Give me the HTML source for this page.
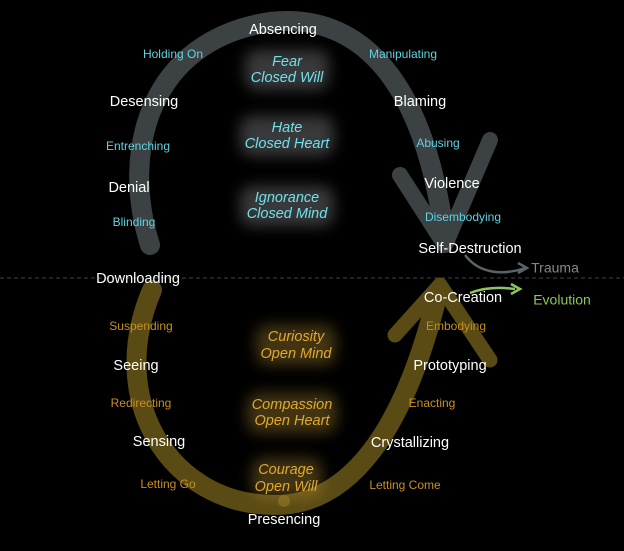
<!DOCTYPE html>
<html><head><style>
body{margin:0;background:#000;width:624px;height:551px;overflow:hidden;font-family:"Liberation Sans",sans-serif}
svg{display:block}
text{text-anchor:middle;dominant-baseline:middle}
.w{fill:#fff;font-size:14.5px}
.c{fill:#5fd4e0;font-size:12px}
.ci{fill:#6fe0ea;font-size:14.5px;font-style:italic}
.o{fill:#c8901e;font-size:12px}
.oi{fill:#e0a830;font-size:14.5px;font-style:italic}
</style></head><body>
<svg width="624" height="551" viewBox="0 0 624 551">
<defs>
<filter id="b" x="-50%" y="-50%" width="200%" height="200%"><feGaussianBlur stdDeviation="7"/></filter>
</defs>
<line x1="0" y1="278" x2="624" y2="278" stroke="#444" stroke-dasharray="4 3" stroke-width="1"/>
<path d="M150,245 C120,150 150,40 270,22 C360,12 425,80 445,240" fill="none" stroke="#3c4244" stroke-width="20" stroke-linecap="round"/>
<path d="M400,175 L445,245 L490,140" fill="none" stroke="#3c4244" stroke-width="16" stroke-linecap="round" stroke-linejoin="round"/>
<path d="M465,255 C480,275 505,275 525,268" fill="none" stroke="#5a6466" stroke-width="2.5"/>
<path d="M518,263 L527,268 L518,273" fill="none" stroke="#5a6466" stroke-width="2.5"/>
<path d="M152,290 C105,400 170,505 275,505 C350,505 405,430 438,292" fill="none" stroke="#5a4a14" stroke-width="20" stroke-linecap="round"/>
<path d="M395,335 L440,285 L490,360" fill="none" stroke="#5a4a14" stroke-width="15" stroke-linecap="round" stroke-linejoin="round"/>
<circle cx="284" cy="501" r="6" fill="#7a6420"/>
<path d="M470,293 C485,287 500,287 515,289" fill="none" stroke="#8ec55a" stroke-width="2.5"/>
<path d="M511,284 L520,289 L511,294" fill="none" stroke="#8ec55a" stroke-width="2.5"/>
<g filter="url(#b)" fill="rgba(200,205,210,0.28)">
<rect x="245" y="50" width="84" height="40" rx="12"/>
<rect x="240" y="116" width="94" height="40" rx="12"/>
<rect x="240" y="186" width="94" height="40" rx="12"/>
</g>
<g filter="url(#b)" fill="rgba(190,150,50,0.35)">
<rect x="256" y="325" width="80" height="40" rx="12"/>
<rect x="247" y="393" width="90" height="40" rx="12"/>
<rect x="252" y="458" width="70" height="40" rx="12"/>
</g>
<g transform="translate(0,1)">
<text class="w" x="283" y="29">Absencing</text>
<text class="c" x="173" y="54">Holding On</text>
<text class="c" x="403" y="54">Manipulating</text>
<text class="ci" x="287" y="61">Fear</text>
<text class="ci" x="287" y="77">Closed Will</text>
<text class="w" x="144" y="101">Desensing</text>
<text class="w" x="420" y="101">Blaming</text>
<text class="ci" x="287" y="127">Hate</text>
<text class="ci" x="287" y="143">Closed Heart</text>
<text class="c" x="138" y="146">Entrenching</text>
<text class="c" x="438" y="143">Abusing</text>
<text class="w" x="129" y="187">Denial</text>
<text class="w" x="452" y="183">Violence</text>
<text class="ci" x="287" y="197">Ignorance</text>
<text class="ci" x="287" y="213">Closed Mind</text>
<text class="c" x="134" y="222">Blinding</text>
<text class="c" x="463" y="217">Disembodying</text>
<text class="w" x="470" y="248">Self-Destruction</text>
<text x="555" y="268" style="fill:#7e8a8c;font-size:14px">Trauma</text>
<text class="w" x="138" y="278">Downloading</text>
<text class="w" x="463" y="297">Co-Creation</text>
<text x="562" y="300" style="fill:#8ec55a;font-size:14px">Evolution</text>
<text class="o" x="141" y="326">Suspending</text>
<text class="o" x="456" y="326">Embodying</text>
<text class="oi" x="296" y="336">Curiosity</text>
<text class="oi" x="296" y="353">Open Mind</text>
<text class="w" x="136" y="365">Seeing</text>
<text class="w" x="450" y="365">Prototyping</text>
<text class="o" x="141" y="403">Redirecting</text>
<text class="o" x="432" y="403">Enacting</text>
<text class="oi" x="292" y="404">Compassion</text>
<text class="oi" x="292" y="420">Open Heart</text>
<text class="w" x="159" y="441">Sensing</text>
<text class="w" x="410" y="442">Crystallizing</text>
<text class="oi" x="286" y="469">Courage</text>
<text class="oi" x="286" y="486">Open Will</text>
<text class="o" x="168" y="484">Letting Go</text>
<text class="o" x="405" y="485">Letting Come</text>
<text class="w" x="284" y="519">Presencing</text>
</g>
</svg>
</body></html>
